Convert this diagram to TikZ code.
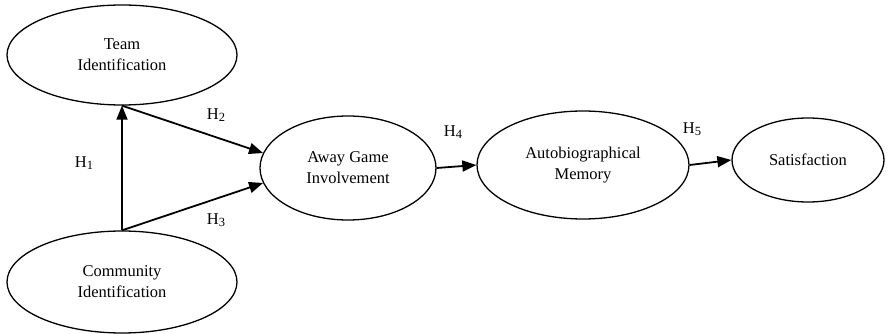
\documentclass[tikz,border=0pt]{standalone}
\usepackage{fontspec}
\setmainfont{Liberation Serif}
\usetikzlibrary{arrows.meta, shapes.geometric}
\newcommand{\hyp}[1]{H\raisebox{-0.2ex}{\fontsize{12.5}{13}\selectfont #1}}

\begin{document}
\begin{tikzpicture}[
						x=1pt, y=-1pt,
						font=\fontsize{16.5}{21}\selectfont,
						construct/.style = {draw, ellipse, line width=1.3pt, inner sep=0pt, align=center},
						path/.style = {line width=1.8pt, -{Triangle[length=14pt, width=11pt]}},
						hlabel/.style = {inner sep=0pt}
					]
\useasboundingbox (0,0) rectangle (889,334);
\node[construct, minimum width=230pt, minimum height=100pt] (team) at (122,55) {Team\\Identification};
\node[construct, minimum width=230pt, minimum height=102pt] (comm) at (122,282) {Community\\Identification};
\node[construct, minimum width=176pt, minimum height=104pt] (away) at (348,168) {Away Game\\Involvement};
\node[construct, minimum width=212pt, minimum height=108pt] (auto) at (583,165) {Autobiographical\\Memory};
\node[construct, minimum width=152pt, minimum height=84pt] (sat) at (808,160) {Satisfaction};

\node[hlabel] (h1) at (84,163) {\hyp{1}};
\node[hlabel] (h2) at (216,115) {\hyp{2}};
\node[hlabel] (h3) at (216,220) {\hyp{3}};
\node[hlabel] (h4) at (453,132) {\hyp{4}};
\node[hlabel] (h5) at (692,129) {\hyp{5}};

\draw[path] (comm.north) -- (team.south);
\draw[path] (team.south) -- (away.170);
\draw[path] (comm.north) -- (away.190);
\draw[path] (away.east) -- (auto.west);
\draw[path] (auto.east) -- (sat.west);
\end{tikzpicture}
\end{document}
